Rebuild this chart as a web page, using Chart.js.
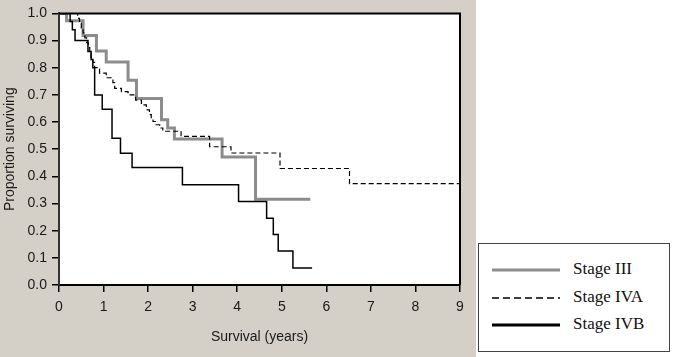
<!DOCTYPE html>
<html>
<head>
<meta charset="utf-8">
<script src="https://cdn.jsdelivr.net/npm/chart.js@4.4.1/dist/chart.umd.min.js"></script>
<style>
    html, body { margin: 0; padding: 0; background: #fff; width: 674px; height: 357px; overflow: hidden; }
    #panel { position: absolute; left: 0; top: 0; width: 476px; height: 357px; background: #d4d0c8; }
    #legend { position: absolute; left: 478px; top: 243px; width: 190px; height: 107px; border: 1px solid #444; background: #fff;
              font-family: 'Liberation Serif', 'Times New Roman', serif; font-size: 17px; color: #111; }
    #legend svg { position: absolute; left: 0; top: 0; }
    #legend span { position: absolute; left: 94px; line-height: 18px; }
</style>
</head>
<body>
<div id="panel"><canvas id="kmChart" width="476" height="357"></canvas></div>
<div id="legend">
    <svg width="190" height="107">
        <line x1="13" y1="26" x2="81" y2="26" stroke="#8c8c8c" stroke-width="3"/>
        <line x1="13" y1="54" x2="81" y2="54" stroke="#000" stroke-width="1.5" stroke-dasharray="7,4"/>
        <line x1="13" y1="81" x2="81" y2="81" stroke="#000" stroke-width="3"/>
    </svg>
    <span style="top:16px">Stage III</span>
    <span style="top:44px">Stage IVA</span>
    <span style="top:71px">Stage IVB</span>
</div>
<script>
// Kaplan-Meier curves (time in years, proportion surviving)
const stage3Times = [0, 0.17, 0.54, 0.84, 1.06, 1.55, 1.74, 2.30, 2.44, 2.59, 3.66, 4.41, 5.64];
const stage3Surv  = [1.0, 0.973, 0.919, 0.862, 0.821, 0.754, 0.687, 0.608, 0.578, 0.538, 0.471, 0.316, 0.316];

const stage4aTimes = [0, 0.42, 0.46, 0.50, 0.54, 0.58, 0.62, 0.66, 0.69, 0.72, 0.76, 0.80, 0.91, 1.06, 1.21, 1.25, 1.40, 1.55,
                      1.72, 1.85, 1.96, 2.03, 2.07, 2.11, 2.18, 2.26, 2.33, 2.74, 3.38, 3.86, 4.96, 6.52, 9.0];
const stage4aSurv  = [1.0, 0.982, 0.964, 0.946, 0.928, 0.91, 0.892, 0.874, 0.856, 0.838, 0.82, 0.80, 0.78, 0.763, 0.745, 0.724, 0.712, 0.70,
                      0.681, 0.663, 0.645, 0.627, 0.614, 0.602, 0.59, 0.578, 0.566, 0.547, 0.509, 0.486, 0.429, 0.373, 0.373];

const stage4bTimes = [0, 0.25, 0.30, 0.36, 0.65, 0.72, 0.76, 0.80, 0.97, 1.19, 1.38, 1.64, 2.77, 4.03, 4.66, 4.81, 4.92, 5.25, 5.68];
const stage4bSurv  = [1.0, 0.97, 0.94, 0.90, 0.86, 0.83, 0.80, 0.70, 0.647, 0.54, 0.485, 0.433, 0.369, 0.307, 0.246, 0.186, 0.125, 0.063, 0.063];

const xTicks = [0, 1, 2, 3, 4, 5, 6, 7, 8, 9];
const yTicks = [0, 0.1, 0.2, 0.3, 0.4, 0.5, 0.6, 0.7, 0.8, 0.9, 1.0];

function toPoints(times, surv) {
    return times.map((t, i) => ({ x: t, y: surv[i] }));
}

// White plot area plus top/right frame
const framePlugin = {
    id: 'frame',
    beforeDraw(chart) {
        const a = chart.chartArea;
        chart.ctx.save();
        chart.ctx.fillStyle = '#fff';
        chart.ctx.fillRect(a.left, a.top, a.right - a.left, a.bottom - a.top);
        chart.ctx.restore();
    },
    afterDraw(chart) {
        const a = chart.chartArea;
        const ctx = chart.ctx;
        ctx.save();
        ctx.strokeStyle = '#000';
        ctx.lineWidth = 2;
        ctx.beginPath();
        ctx.moveTo(a.left, a.top);
        ctx.lineTo(a.right, a.top);
        ctx.lineTo(a.right, a.bottom);
        ctx.stroke();
        ctx.restore();
    }
};

Chart.defaults.font.family = "'Liberation Sans', Arial, sans-serif";
Chart.defaults.color = '#1a1a1a';

new Chart(document.getElementById('kmChart'), {
    type: 'line',
    data: {
        datasets: [
            {
                label: 'Stage IVB',
                data: toPoints(stage4bTimes, stage4bSurv),
                borderColor: '#000',
                borderWidth: 1.5,
                stepped: true,
                pointRadius: 0,
                order: 0
            },
            {
                label: 'Stage IVA',
                data: toPoints(stage4aTimes, stage4aSurv),
                borderColor: '#000',
                borderWidth: 1.2,
                borderDash: [5, 3],
                stepped: true,
                pointRadius: 0,
                order: 1
            },
            {
                label: 'Stage III',
                data: toPoints(stage3Times, stage3Surv),
                borderColor: '#8c8c8c',
                borderWidth: 3,
                stepped: true,
                pointRadius: 0,
                order: 2
            }
        ]
    },
    options: {
        responsive: false,
        animation: false,
        layout: { padding: { top: 11, right: 16, left: 0, bottom: 0 } },
        plugins: { legend: { display: false }, tooltip: { enabled: false } },
        scales: {
            x: {
                type: 'linear',
                min: 0,
                max: 9,
                afterBuildTicks: scale => { scale.ticks = xTicks.map(v => ({ value: v })); },
                afterFit: scale => { scale.height = 72; },
                border: { color: '#000', width: 2 },
                grid: { drawOnChartArea: false, drawTicks: true, tickLength: 7, color: '#000', lineWidth: 1.5 },
                ticks: { font: { size: 14 }, padding: 7, maxRotation: 0 },
                title: { display: true, text: 'Survival (years)', font: { size: 14 }, padding: { top: 0, bottom: 11 } }
            },
            y: {
                min: 0,
                max: 1,
                afterBuildTicks: scale => { scale.ticks = yTicks.map(v => ({ value: v })); },
                afterFit: scale => { scale.width = 59; },
                border: { color: '#333', width: 2 },
                grid: { drawOnChartArea: false, drawTicks: true, tickLength: 7, color: '#000', lineWidth: 1.5 },
                ticks: { font: { size: 14 }, padding: 5, callback: v => v.toFixed(1) },
                title: { display: true, text: 'Proportion surviving', font: { size: 14 }, padding: { top: 2, bottom: 0 } }
            }
        }
    },
    plugins: [framePlugin]
});
</script>
</body>
</html>
